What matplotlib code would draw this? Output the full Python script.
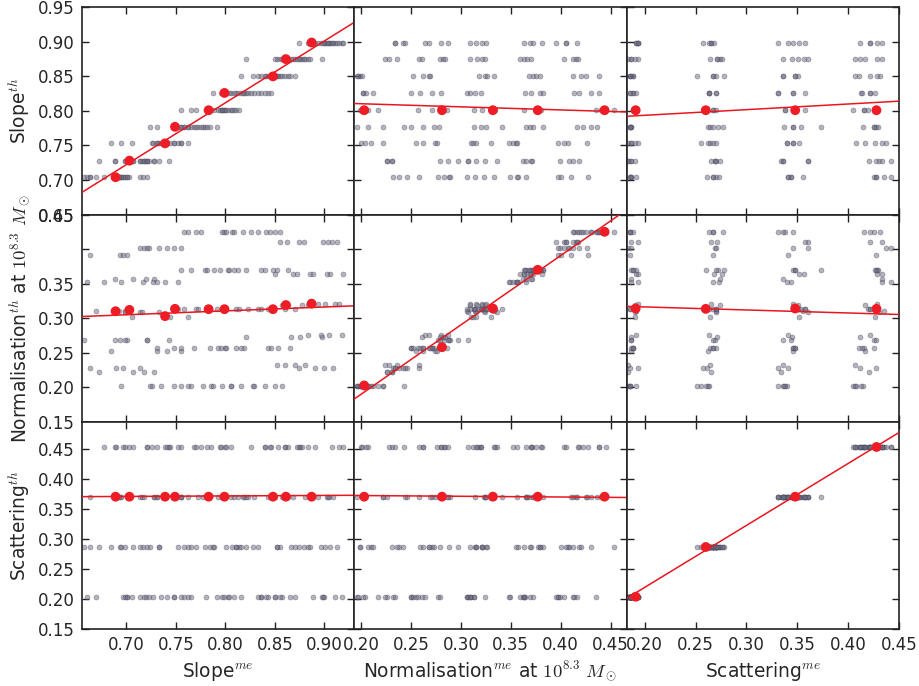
import numpy as np
import matplotlib.pyplot as plt

plt.rcParams['mathtext.fontset'] = 'cm'
plt.rcParams['font.family'] = ['DejaVu Sans']

# grid of input ("th") values
slope_levels = [0.704, 0.728, 0.753, 0.777, 0.801, 0.826, 0.850, 0.875, 0.899]
scat_levels = [0.204, 0.2875, 0.371, 0.454]
# true normalisation at 10^8.3 for each norm group (rows) and slope level (cols)
norm_th_table = [
    [0.2275, 0.2227, 0.202, 0.202, 0.202, 0.202, 0.202, 0.2324, 0.2275],
    [0.2686, 0.2686, 0.2531, 0.2575, 0.2575, 0.2575, 0.2575, 0.2734, 0.2763],
    [0.310, 0.309, 0.3024, 0.313, 0.313, 0.313, 0.313, 0.3188, 0.3205],
    [0.3517, 0.3565, 0.3517, 0.369, 0.369, 0.369, 0.369, 0.364, 0.364],
    [0.3918, 0.4014, 0.4014, 0.425, 0.425, 0.425, 0.425, 0.4097, 0.4097],
]

# measured slope, per slope level: 5 norm groups x 4 scatter levels
slope_me_rows = [
    [0.697, 0.663, 0.714, 0.689, 0.701, 0.657, 0.694, 0.721, 0.669, 0.699, 0.692, 0.703, 0.660, 0.717, 0.695, 0.677, 0.701, 0.694, 0.663, 0.697],
    [0.718, 0.672, 0.728, 0.707, 0.699, 0.721, 0.688, 0.743, 0.714, 0.733, 0.716, 0.699, 0.720, 0.707, 0.728, 0.688, 0.723, 0.714, 0.718, 0.721],
    [0.735, 0.695, 0.748, 0.726, 0.741, 0.684, 0.755, 0.731, 0.706, 0.762, 0.737, 0.744, 0.727, 0.752, 0.731, 0.739, 0.748, 0.733, 0.755, 0.741],
    [0.762, 0.724, 0.777, 0.755, 0.748, 0.784, 0.731, 0.768, 0.791, 0.758, 0.772, 0.752, 0.765, 0.779, 0.755, 0.781, 0.758, 0.770, 0.762, 0.775],
    [0.796, 0.765, 0.806, 0.785, 0.755, 0.811, 0.792, 0.800, 0.780, 0.814, 0.797, 0.770, 0.803, 0.788, 0.809, 0.794, 0.799, 0.807, 0.796, 0.801],
    [0.816, 0.787, 0.829, 0.806, 0.843, 0.801, 0.819, 0.795, 0.836, 0.811, 0.823, 0.846, 0.804, 0.821, 0.813, 0.840, 0.809, 0.833, 0.818, 0.826],
    [0.850, 0.828, 0.857, 0.840, 0.865, 0.816, 0.846, 0.853, 0.833, 0.870, 0.843, 0.860, 0.836, 0.852, 0.848, 0.863, 0.841, 0.855, 0.850, 0.845],
    [0.870, 0.852, 0.880, 0.860, 0.897, 0.866, 0.821, 0.875, 0.857, 0.883, 0.863, 0.877, 0.850, 0.885, 0.868, 0.872, 0.855, 0.879, 0.862, 0.874],
    [0.900, 0.874, 0.909, 0.890, 0.918, 0.896, 0.905, 0.883, 0.911, 0.901, 0.893, 0.915, 0.888, 0.906, 0.903, 0.919, 0.898, 0.913, 0.904, 0.908],
]

# measured normalisation, per slope level -> norm group -> scatter level
norm_me_rows = [
    [[0.232, 0.238, 0.246, 0.258], [0.277, 0.288, 0.289, 0.283], [0.306, 0.314, 0.323, 0.333], [0.349, 0.357, 0.365, 0.356], [0.397, 0.400, 0.410, 0.4275]],
    [[0.2258, 0.2308, 0.226, 0.231], [0.2787, 0.2968, 0.287, 0.307], [0.3069, 0.3156, 0.3246, 0.3363], [0.3625, 0.3698, 0.365, 0.371], [0.3993, 0.4084, 0.4127, 0.4184]],
    [[0.204, 0.2097, 0.2218, 0.200], [0.255, 0.262, 0.2744, 0.276], [0.3096, 0.3156, 0.3303, 0.312], [0.3481, 0.3548, 0.3565, 0.352], [0.3977, 0.4077, 0.4268, 0.403]],
    [[0.1963, 0.2064, 0.2218, 0.2425], [0.2503, 0.2734, 0.2777, 0.262], [0.3136, 0.3256, 0.3414, 0.320], [0.3692, 0.3826, 0.372, 0.365], [0.4161, 0.4301, 0.4362, 0.422]],
    [[0.2164, 0.199, 0.203, 0.207], [0.2566, 0.271, 0.286, 0.280], [0.3129, 0.3213, 0.330, 0.334], [0.3631, 0.377, 0.375, 0.380], [0.4352, 0.4536, 0.440, 0.445]],
    [[0.2023, 0.2114, 0.2023, 0.205], [0.2503, 0.2593, 0.271, 0.280], [0.3062, 0.3089, 0.3146, 0.3206], [0.3642, 0.3792, 0.3826, 0.370], [0.4134, 0.4184, 0.4308, 0.4385]],
    [[0.197, 0.199, 0.196, 0.201], [0.2516, 0.2683, 0.2693, 0.262], [0.3246, 0.3263, 0.333, 0.318], [0.3725, 0.3792, 0.368, 0.375], [0.4127, 0.420, 0.4251, 0.4385]],
    [[0.2235, 0.2358, 0.2583, 0.2275], [0.261, 0.2794, 0.282, 0.2837], [0.3089, 0.3213, 0.324, 0.316], [0.3591, 0.3631, 0.3658, 0.370], [0.4033, 0.4127, 0.415, 0.4174]],
    [[0.2335, 0.2419, 0.244, 0.2335], [0.264, 0.2677, 0.280, 0.2867], [0.3088, 0.321, 0.3256, 0.315], [0.363, 0.369, 0.3725, 0.381], [0.3956, 0.405, 0.4167, 0.405]],
]

# measured scatter, per slope level -> scatter level -> norm group
scat_me_rows = [
    [[0.1853, 0.1869, 0.1918, 0.1869, 0.1853], [0.2611, 0.267, 0.2703, 0.2729, 0.267], [0.3406, 0.3439, 0.3553, 0.3439, 0.3406], [0.4273, 0.4257, 0.4354, 0.442, 0.4273]],
    [[0.1836, 0.1869, 0.1902, 0.1869, 0.1836], [0.2654, 0.2687, 0.2703, 0.2742, 0.2687], [0.3341, 0.3357, 0.3602, 0.3357, 0.3602], [0.4208, 0.4273, 0.4305, 0.4331, 0.442]],
    [[0.1836, 0.1869, 0.1902, 0.1935, 0.1869], [0.2556, 0.2621, 0.2644, 0.267, 0.2697], [0.340, 0.3455, 0.352, 0.340, 0.3455], [0.4077, 0.4168, 0.4267, 0.4338, 0.4371]],
    [[0.1853, 0.1869, 0.1853, 0.1869, 0.1853], [0.2621, 0.2644, 0.267, 0.2719, 0.2768], [0.3374, 0.3455, 0.3537, 0.3733, 0.3455], [0.4148, 0.4257, 0.4273, 0.4299, 0.4257]],
    [[0.1912, 0.1886, 0.1902, 0.1912, 0.1886], [0.2598, 0.267, 0.2703, 0.2598, 0.267], [0.338, 0.3481, 0.3573, 0.3481, 0.338], [0.4044, 0.4158, 0.4201, 0.4273, 0.4158]],
    [[0.1853, 0.1886, 0.1912, 0.1886, 0.1853], [0.2631, 0.2697, 0.2631, 0.2697, 0.2631], [0.3308, 0.3455, 0.3579, 0.3455, 0.3308], [0.4126, 0.4142, 0.4214, 0.4267, 0.4214]],
    [[0.1853, 0.1886, 0.1853, 0.1886, 0.1853], [0.2513, 0.267, 0.2703, 0.2775, 0.267], [0.3357, 0.3481, 0.3504, 0.3481, 0.3357], [0.407, 0.4109, 0.4214, 0.4289, 0.4312]],
    [[0.1836, 0.1869, 0.1902, 0.1935, 0.1869], [0.2644, 0.271, 0.2736, 0.2762, 0.271], [0.3357, 0.3445, 0.3504, 0.357, 0.3602], [0.407, 0.4116, 0.4168, 0.4289, 0.4338]],
    [[0.1935, 0.1918, 0.1935, 0.1918, 0.1935], [0.2572, 0.2631, 0.2654, 0.2677, 0.2654], [0.3308, 0.3406, 0.3455, 0.352, 0.3573], [0.4116, 0.4214, 0.4289, 0.4338, 0.4214]],
]

# one-parameter-at-a-time runs (red points), one set per varied parameter
red_slope_me = [0.689, 0.703, 0.739, 0.749, 0.783, 0.799, 0.848, 0.861, 0.887]
red_slope_th = [0.704, 0.728, 0.753, 0.777, 0.801, 0.826, 0.850, 0.875, 0.899]
red_slope_norm_th = [0.310, 0.312, 0.303, 0.3135, 0.313, 0.313, 0.313, 0.319, 0.321]
red_slope_scat_th = [0.371] * 9

red_norm_me = [0.203, 0.281, 0.332, 0.377, 0.444]
red_norm_th = [0.2026, 0.258, 0.314, 0.370, 0.425]
red_norm_slope_th = [0.801] * 5
red_norm_scat_th = [0.371] * 5

red_scat_me = [0.191, 0.260, 0.348, 0.428]
red_scat_th = [0.204, 0.287, 0.371, 0.454]
red_scat_slope_th = [0.801] * 4
red_scat_norm_th = [0.314, 0.3135, 0.314, 0.3135]

# linear fits, th_row = a * me_col + b
fit_a = [[0.895, -0.0447, 0.0817],
         [0.0562, 1.003, -0.0437],
         [0.0083, -0.0121, 1.033]]
fit_b = [[0.0958, 0.8193, 0.7773],
         [0.2656, -0.0106, 0.325],
         [0.3656, 0.3753, 0.0131]]

xlabels = [r'Slope$^{me}$', r'Normalisation$^{me}$ at $10^{8.3}\ M_\odot$', r'Scattering$^{me}$']
ylabels = [r'Slope$^{th}$', r'Normalisation$^{th}$ at $10^{8.3}\ M_\odot$', r'Scattering$^{th}$']
xlims = [(0.655, 0.93), (0.193, 0.466), (0.182, 0.45)]
ylims = [(0.65, 0.95), (0.15, 0.45), (0.15, 0.496)]
xticks = [[0.70, 0.75, 0.80, 0.85, 0.90],
          [0.20, 0.25, 0.30, 0.35, 0.40, 0.45],
          [0.20, 0.25, 0.30, 0.35, 0.40, 0.45]]
yticks = [[0.65, 0.70, 0.75, 0.80, 0.85, 0.90, 0.95],
          [0.15, 0.20, 0.25, 0.30, 0.35, 0.40, 0.45],
          [0.15, 0.20, 0.25, 0.30, 0.35, 0.40, 0.45]]
ytick_labels = [['0.65', '0.70', '0.75', '0.80', '0.85', '0.90', '0.95'],
                ['0.15', '0.20', '0.25', '0.30', '0.35', '', '0.45'],
                ['0.15', '0.20', '0.25', '0.30', '0.35', '0.40', '0.45']]

# flatten the grid of runs
th = [[], [], []]
me = [[], [], []]
for s in range(9):
    for n in range(5):
        for c in range(4):
            th[0].append(slope_levels[s])
            th[1].append(norm_th_table[n][s])
            th[2].append(scat_levels[c])
            me[0].append(slope_me_rows[s][n * 4 + c])
            me[1].append(norm_me_rows[s][n][c])
            me[2].append(scat_me_rows[s][c][n])

red_me = [red_slope_me, red_norm_me, red_scat_me]
red_th = [[red_slope_th, red_slope_norm_th, red_slope_scat_th],
          [red_norm_slope_th, red_norm_th, red_norm_scat_th],
          [red_scat_slope_th, red_scat_norm_th, red_scat_th]]

fig, axes = plt.subplots(3, 3, figsize=(9.2, 6.86), dpi=100)
fig.subplots_adjust(left=0.089, right=0.977, top=0.9894, bottom=0.083, wspace=0, hspace=0)

for r in range(3):
    for c in range(3):
        ax = axes[r][c]
        ax.scatter(me[c], th[r], s=13, c='#6a6a80', alpha=0.5,
                   edgecolors='#3a3a50', linewidths=0.4, zorder=2)
        xs = np.array(xlims[c])
        ax.plot(xs, fit_a[r][c] * xs + fit_b[r][c], color='#e8161f', lw=1.1, zorder=3)
        ax.scatter(red_me[c], red_th[c][r], s=50, c='#ee1c25', edgecolors='none', zorder=4)
        ax.set_xlim(xlims[c])
        ax.set_ylim(ylims[r])
        ax.set_xticks(xticks[c])
        ax.set_yticks(yticks[r])
        ax.tick_params(direction='in', top=True, right=True, length=5, width=1,
                       labelsize=12, colors='#222222', labelcolor='#262626', pad=5)
        for sp in ax.spines.values():
            sp.set_linewidth(1.2)
            sp.set_color('#222222')
        if r == 2:
            ax.set_xticklabels(['%.2f' % t for t in xticks[c]])
            ax.set_xlabel(xlabels[c], fontsize=13.4, color='#262626')
        else:
            ax.set_xticklabels([])
        if c == 0:
            ax.set_yticklabels(ytick_labels[r])
            ax.set_ylabel(ylabels[r], fontsize=13.4, color='#262626')
        else:
            ax.set_yticklabels([])

fig.savefig('out.png', dpi=100)
